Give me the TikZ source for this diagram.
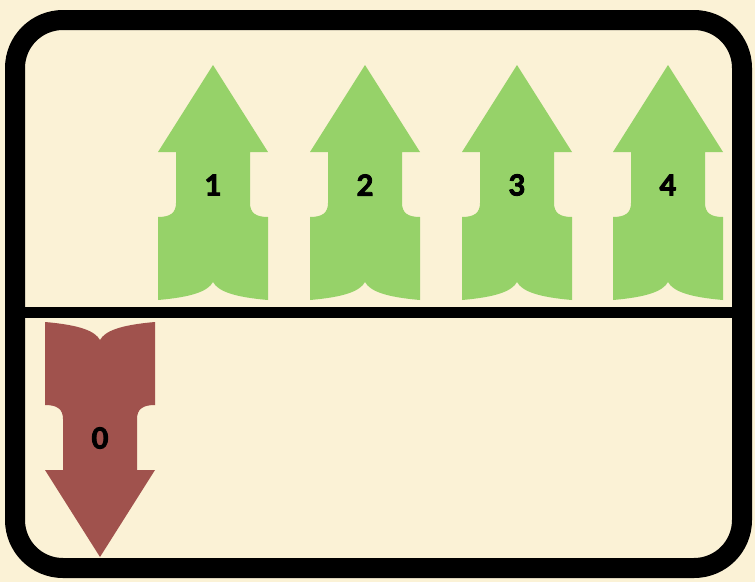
\documentclass[tikz,border=0pt]{standalone}
\usepackage{fontspec}
\newfontfamily\numfont{Lato}[BoldFeatures = {FakeBold = 3}]
\definecolor{cream}{HTML}{FBF2D6}
\definecolor{upgreen}{HTML}{96D269}
\definecolor{downred}{HTML}{A0524D}
\tikzset{frame/.style = {line width = 20, rounded corners = 48},
  num/.style = {font = \numfont\bfseries\fontsize{29}{29}\selectfont, inner sep = 0},
  pics/bolt/.style = {code = {
    \fill [#1] (0, 0) -- (55, 87) -- (37, 87) -- (37, 138)
      .. controls (37, 148) and (43, 152) .. (55, 152) -- (55, 235)
      .. controls (20, 232) and (5, 226) .. (0, 217)
      .. controls (-5, 226) and (-20, 232) .. (-55, 235) -- (-55, 152)
      .. controls (-43, 152) and (-37, 148) .. (-37, 138) -- (-37, 87) -- (-55, 87) -- cycle;
  }}}

\begin{document}
\begin{tikzpicture}[x = 1pt, y = -1pt]
    \useasboundingbox (0, 0) rectangle (755, 582);
    \fill [cream] (0, 0) rectangle (755, 582);

    \pic at (213, 65) {bolt = upgreen};
    \pic at (365, 65) {bolt = upgreen};
    \pic at (517, 65) {bolt = upgreen};
    \pic at (668, 65) {bolt = upgreen};
    \pic [yscale = -1] at (100, 557) {bolt = downred};

    \node [num] (n1) at (213, 185) {1};
    \node [num] (n2) at (365, 185) {2};
    \node [num] (n3) at (517, 185) {3};
    \node [num] (n4) at (668, 185) {4};
    \node [num] (n0) at (100, 438) {0};

    \draw [line width = 11] (15, 312) -- (742, 312);
    \draw [frame] (15, 20) rectangle (742, 568);
  \end{tikzpicture}
\end{document}
